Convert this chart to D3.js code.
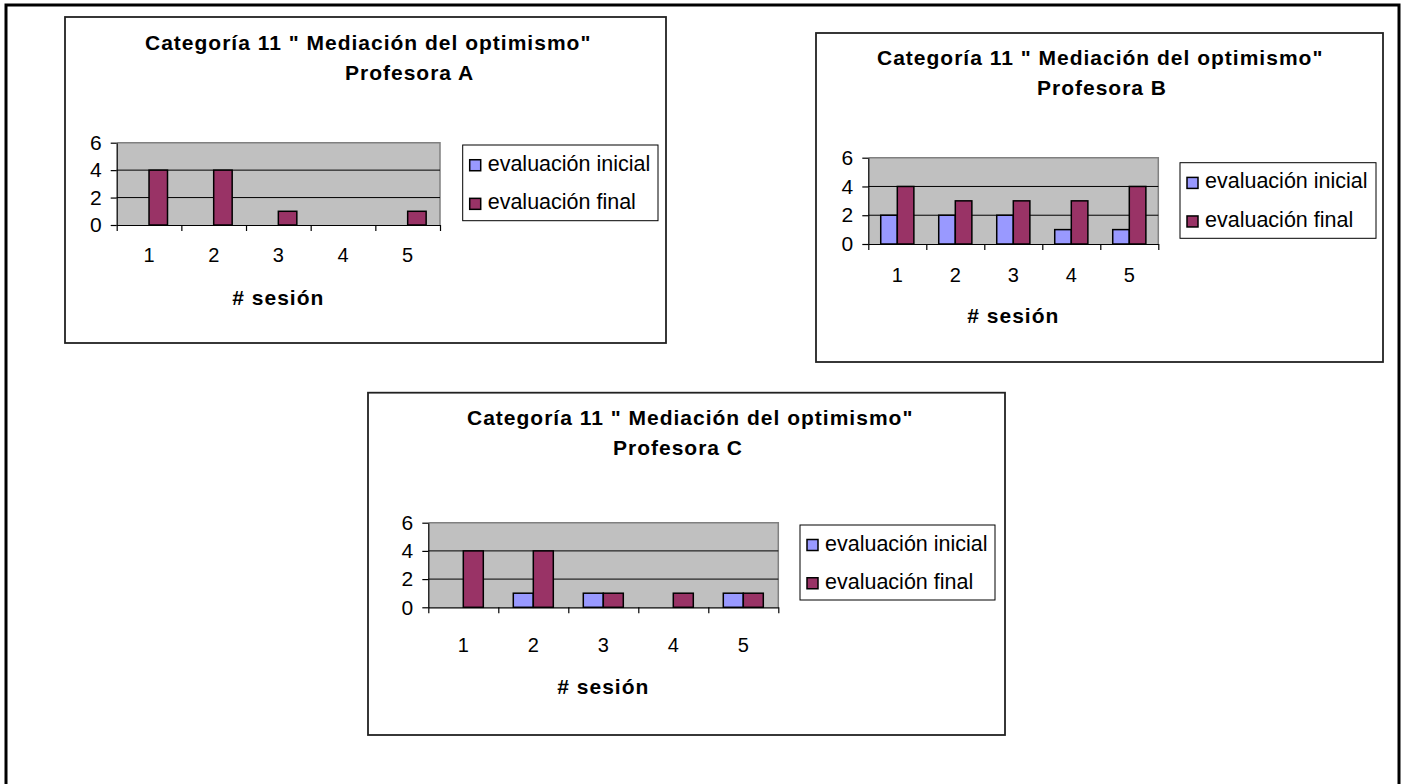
<!DOCTYPE html>
<html>
<head>
<meta charset="utf-8">
<script src="https://cdn.jsdelivr.net/npm/d3@7"></script>
<style>
  html, body { margin: 0; padding: 0; background: #fff; }
  svg { display: block; }
  text { font-family: "Liberation Sans", Arial, sans-serif; fill: #000; }
</style>
</head>
<body>
<svg id="page" width="1404" height="784"></svg>
<script>
// Session categories, series and values per teacher
const sessions = ["1", "2", "3", "4", "5"];
const seriesNames = ["evaluación inicial", "evaluación final"];
const seriesColors = ["#9999FF", "#993366"];

const inicialA = [0, 0, 0, 0, 0];
const finalA   = [4, 4, 1, 0, 1];
const inicialB = [2, 2, 2, 1, 1];
const finalB   = [4, 3, 3, 3, 4];
const inicialC = [0, 1, 1, 0, 1];
const finalC   = [4, 4, 1, 1, 1];

const yTicks = [0, 2, 4, 6];
const titleLine = 'Categoría 11 " Mediación del optimismo"';
const teachers = ["Profesora A", "Profesora B", "Profesora C"];
const axisTitle = "# sesión";

// Panel geometry (page pixels)
const panels = [
  { name: teachers[0], inicial: inicialA, final: finalA,
    box: [65, 17, 666, 343], plot: [116.7, 142.7, 440, 225], legend: [462.7, 145, 658, 220.7],
    t1: [145, 50], t2: [345, 80], xLab: 261.7, xTitle: 305 },
  { name: teachers[1], inicial: inicialB, final: finalB,
    box: [816, 33, 1383, 362], plot: [868.3, 157.7, 1158.3, 244], legend: [1180, 162.7, 1376, 238.3],
    t1: [877, 65], t2: [1037, 95], xLab: 281.7, xTitle: 323 },
  { name: teachers[2], inicial: inicialC, final: finalC,
    box: [368, 392.7, 1005, 735], plot: [428.3, 522.7, 778.3, 607.3], legend: [800, 525, 995, 600],
    t1: [467, 425], t2: [613, 455], xLab: 651.7, xTitle: 694 }
];

const svg = d3.select("#page");

// Outer page frame
svg.append("rect")
  .attr("x", 6).attr("y", 5).attr("width", 1393).attr("height", 820)
  .attr("fill", "none").attr("stroke", "#000").attr("stroke-width", 3);

panels.forEach(p => {
  const g = svg.append("g");
  const [bx0, by0, bx1, by1] = p.box;
  g.append("rect")
    .attr("x", bx0).attr("y", by0).attr("width", bx1 - bx0).attr("height", by1 - by0)
    .attr("fill", "#fff").attr("stroke", "#222").attr("stroke-width", 1.8);

  // Title
  g.append("text").attr("x", p.t1[0]).attr("y", p.t1[1])
    .attr("font-size", 21).attr("font-weight", "bold").attr("letter-spacing", 1.0)
    .text(titleLine);
  g.append("text").attr("x", p.t2[0]).attr("y", p.t2[1])
    .attr("font-size", 21).attr("font-weight", "bold").attr("letter-spacing", 1.0)
    .text(p.name);

  const [px0, py0, px1, py1] = p.plot;
  const x0 = d3.scaleBand().domain(sessions).range([px0, px1])
    .paddingInner(1.5 / 3.5).paddingOuter(0.75 / 3.5);
  const x1 = d3.scaleBand().domain(seriesNames).range([0, x0.bandwidth()]);
  const y = d3.scaleLinear().domain([0, 6]).range([py1, py0]);
  const xb = d3.scaleLinear().domain([0, sessions.length]).range([px0, px1]);

  // Plot background and frame
  g.append("rect").attr("x", px0).attr("y", py0).attr("width", px1 - px0).attr("height", py1 - py0)
    .attr("fill", "#C0C0C0");
  g.append("path")
    .attr("d", `M${px0},${py0}H${px1}V${py1}`)
    .attr("fill", "none").attr("stroke", "#808080").attr("stroke-width", 1.5);

  // Gridlines
  g.selectAll(".grid").data(yTicks.filter(t => t > 0 && t < 6)).join("line")
    .attr("x1", px0).attr("x2", px1).attr("y1", d => y(d)).attr("y2", d => y(d))
    .attr("stroke", "#000").attr("stroke-width", 1);

  // Bars
  const rows = sessions.map((s, i) => ({ s, vals: [p.inicial[i], p.final[i]] }));
  rows.forEach(r => {
    r.vals.forEach((v, k) => {
      if (v <= 0) return;
      g.append("rect")
        .attr("x", x0(r.s) + x1(seriesNames[k]))
        .attr("y", y(v))
        .attr("width", x1.bandwidth())
        .attr("height", y(0) - y(v))
        .attr("fill", seriesColors[k])
        .attr("stroke", "#000").attr("stroke-width", 1.5);
    });
  });

  // Y axis
  const yAxis = g.append("g").attr("transform", `translate(${px0},0)`)
    .call(d3.axisLeft(y).tickValues(yTicks).tickFormat(d3.format("d"))
      .tickSize(6).tickSizeOuter(0).tickPadding(9));
  yAxis.selectAll("text").attr("font-size", 21).attr("font-family", "Liberation Sans, Arial, sans-serif").attr("fill", "#000");
  yAxis.selectAll("line,path").attr("stroke", "#000").attr("stroke-width", 1.2);

  // X axis: boundary ticks plus centred session labels
  const xAxis = g.append("g").attr("transform", `translate(0,${py1})`)
    .call(d3.axisBottom(xb).ticks(sessions.length).tickSize(6).tickSizeOuter(0).tickFormat(""));
  xAxis.selectAll("line,path").attr("stroke", "#000").attr("stroke-width", 1.2);
  g.selectAll(".xl").data(sessions).join("text")
    .attr("x", d => x0(d) + x0.bandwidth() / 2).attr("y", p.xLab)
    .attr("text-anchor", "middle").attr("font-size", 20).text(d => d);

  g.append("text").attr("x", (px0 + px1) / 2).attr("y", p.xTitle)
    .attr("text-anchor", "middle").attr("font-size", 21).attr("font-weight", "bold")
    .attr("letter-spacing", 1.0).text(axisTitle);

  // Legend
  const [lx0, ly0, lx1, ly1] = p.legend;
  g.append("rect").attr("x", lx0).attr("y", ly0).attr("width", lx1 - lx0).attr("height", ly1 - ly0)
    .attr("fill", "#fff").attr("stroke", "#000").attr("stroke-width", 1);
  const lh = ly1 - ly0;
  seriesNames.forEach((n, k) => {
    const base = ly0 + lh * (k === 0 ? 0.34 : 0.85);
    g.append("rect").attr("x", lx0 + 7).attr("y", base - 11).attr("width", 11).attr("height", 11)
      .attr("fill", seriesColors[k]).attr("stroke", "#000").attr("stroke-width", 1.5);
    g.append("text").attr("x", lx0 + 25).attr("y", base).attr("font-size", 21.5).text(n);
  });
});
</script>
</body>
</html>
